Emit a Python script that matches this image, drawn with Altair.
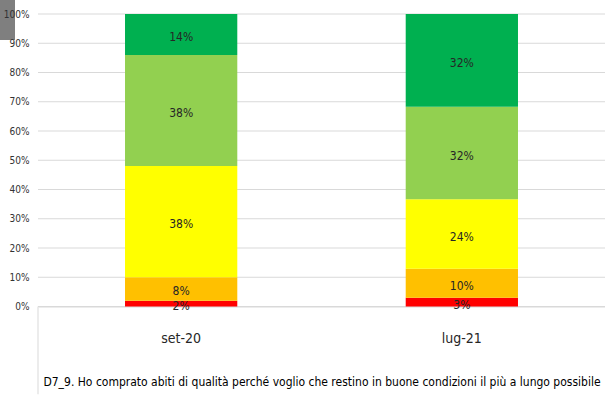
import altair as alt
import pandas as pd

# Survey waves and answer levels (bottom to top of each stacked bar)
waves = ["set-20", "lug-21"]
levels = ["1", "2", "3", "4", "5"]
level_colors = ["#FF0000", "#FFC000", "#FFFF00", "#92D050", "#00B050"]

# Share of respondents per level, in percent
set20_pct = [2, 8, 38, 38, 14]
lug21_pct = [3, 10, 24, 32, 32]

# Percentage axis ticks (as fractions)
y_ticks = [0.0, 0.1, 0.2, 0.3, 0.4, 0.5, 0.6, 0.7, 0.8, 0.9, 1.0]

question = ("D7_9. Ho comprato abiti di qualità perché voglio che restino "
            "in buone condizioni il più a lungo possibile")

rows = []
for wave, values in zip(waves, [set20_pct, lug21_pct]):
    for i, (lvl, v) in enumerate(zip(levels, values)):
        rows.append({"wave": wave, "level": lvl, "order": i, "pct": v,
                     "label": f"{v}%"})
df = pd.DataFrame(rows)
grid_df = pd.DataFrame({"tick": y_ticks})

FONT = "DejaVu Sans Condensed"
W, H = 567, 292.5

x_scale = alt.Scale(paddingInner=0.6, paddingOuter=0.31)
x_axis = alt.Axis(
    title=question, labelAngle=0, ticks=False, domain=True,
    domainColor="#d9d9d9", labelFont=FONT, labelFontSize=14,
    labelColor="#262626", labelPadding=25,
    titleFont=FONT, titleFontSize=12, titleFontWeight="normal",
    titleColor="#000000", titlePadding=31,
)
y_scale = alt.Scale(domain=[0, 1], nice=False)
y_axis = alt.Axis(
    title=None, format=".0%", values=y_ticks,
    grid=False, domain=False, ticks=False,
    labelOverlap=False, labelFont=FONT, labelFontSize=10,
    labelColor="#333333", labelPadding=9, zindex=1,
)

# Horizontal gridlines, drawn beneath the bars
grid = alt.Chart(grid_df).mark_rule(color="#d9d9d9", strokeWidth=1).encode(
    y=alt.Y("tick:Q", scale=y_scale, axis=y_axis),
)

bars = alt.Chart(df).mark_bar().encode(
    x=alt.X("wave:N", sort=waves, scale=x_scale, axis=x_axis),
    y=alt.Y("pct:Q", stack="normalize", scale=y_scale, axis=y_axis),
    color=alt.Color("level:N", sort=levels,
                    scale=alt.Scale(domain=levels, range=level_colors),
                    legend=None),
    order=alt.Order("order:Q"),
)

labels = alt.Chart(df).transform_stack(
    stack="pct", groupby=["wave"], as_=["y0", "y1"],
    sort=[alt.SortField("order")], offset="normalize",
).transform_calculate(
    mid="(datum.y0 + datum.y1) / 2"
).mark_text(font=FONT, fontSize=12, color="#262626", dy=2.5).encode(
    x=alt.X("wave:N", sort=waves, scale=x_scale, axis=x_axis),
    y=alt.Y("mid:Q", scale=y_scale, axis=y_axis),
    text="label:N",
)

# Grey tab in the top-left corner
corner = alt.Chart(df).mark_rect(color="#7f7f7f").encode(
    x=alt.value(-38), x2=alt.value(-23), y=alt.value(-14), y2=alt.value(26)
)
# Left divider running from the 0% baseline down past the axis labels
divider = alt.Chart(grid_df).transform_filter("datum.tick == 0").mark_rule(
    color="#d9d9d9", strokeWidth=1
).encode(
    x=alt.value(0),
    y=alt.Y("tick:Q", scale=y_scale, axis=y_axis),
    y2=alt.Y2(datum=-0.3),
)

chart = alt.layer(grid, bars, labels, corner, divider).properties(
    width=W, height=H,
    background="white",
    autosize=alt.AutoSizeParams(type="none"),
    padding={"left": 38, "top": 14, "right": 0, "bottom": 90},
).configure_view(stroke=None)

chart.save("out.html", embed_options={"renderer": "svg", "actions": False})
